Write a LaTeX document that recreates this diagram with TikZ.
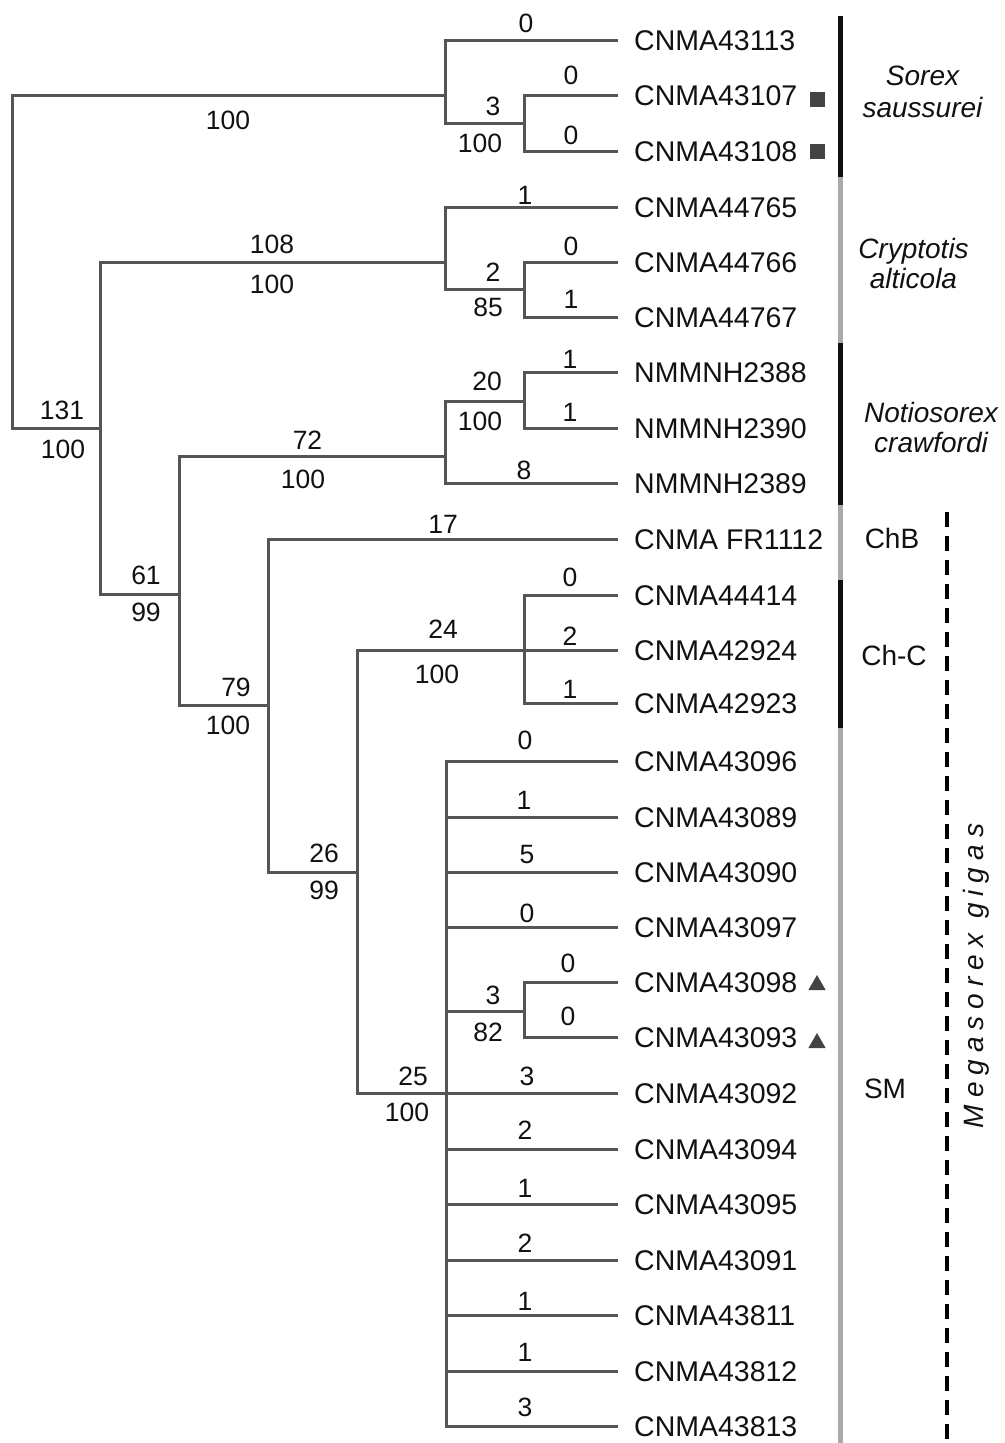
\documentclass[tikz,border=0pt]{standalone}
\usepackage{fontspec}
\setmainfont{Liberation Sans}
\newfontfamily\megafont[LetterSpace=25]{Liberation Sans}
\usetikzlibrary{shapes.geometric}
\definecolor{branchc}{HTML}{555555}
\definecolor{txtc}{HTML}{111111}
\definecolor{barlight}{HTML}{AAAAAA}
\definecolor{bardark}{HTML}{111111}
\definecolor{markc}{HTML}{444444}
\begin{document}
\begin{tikzpicture}[x=1pt,y=-1pt,
  br/.style={draw=branchc, line width=3pt},
  taxon/.style={anchor=west, inner xsep=16pt, inner ysep=0pt, text height=20pt, text depth=0pt, font=\fontsize{28.5}{32}\selectfont, text=txtc},
  num/.style={inner sep=0pt, font=\fontsize{26.5}{30}\selectfont, text=txtc},
  clade/.style={anchor=base, inner sep=0pt, font=\fontsize{28}{32}\selectfont\itshape, text=txtc},
  grp/.style={anchor=base, inner sep=0pt, font=\fontsize{28}{32}\selectfont, text=txtc},
  sqmark/.style={fill=markc, minimum size=15pt, inner sep=0pt},
  trimark/.style={fill=markc, regular polygon, regular polygon sides=3, minimum size=20pt, inner sep=0pt},
  bardk/.style={draw=bardark, line width=5pt},
  barlt/.style={draw=barlight, line width=5pt},
  dashln/.style={draw=black, line width=3.5pt, dash pattern=on 15pt off 9pt},
]
\useasboundingbox (0,0) rectangle (1004,1443);

% ---------- tips ----------
\node[taxon] (t43113) at (618,40) {CNMA43113};
\node[taxon] (t43107) at (618,95) {CNMA43107};
\node[taxon] (t43108) at (618,151) {CNMA43108};
\node[taxon] (t44765) at (618,207) {CNMA44765};
\node[taxon] (t44766) at (618,262) {CNMA44766};
\node[taxon] (t44767) at (618,317) {CNMA44767};
\node[taxon] (t2388) at (618,372) {NMMNH2388};
\node[taxon] (t2390) at (618,428) {NMMNH2390};
\node[taxon] (t2389) at (618,483) {NMMNH2389};
\node[taxon] (tFR) at (618,539) {CNMA FR1112};
\node[taxon] (t44414) at (618,595) {CNMA44414};
\node[taxon] (t42924) at (618,650) {CNMA42924};
\node[taxon] (t42923) at (618,703) {CNMA42923};
\node[taxon] (t43096) at (618,761) {CNMA43096};
\node[taxon] (t43089) at (618,817) {CNMA43089};
\node[taxon] (t43090) at (618,872) {CNMA43090};
\node[taxon] (t43097) at (618,927) {CNMA43097};
\node[taxon] (t43098) at (618,982) {CNMA43098};
\node[taxon] (t43093) at (618,1037) {CNMA43093};
\node[taxon] (t43092) at (618,1093) {CNMA43092};
\node[taxon] (t43094) at (618,1149) {CNMA43094};
\node[taxon] (t43095) at (618,1204) {CNMA43095};
\node[taxon] (t43091) at (618,1260) {CNMA43091};
\node[taxon] (t43811) at (618,1315) {CNMA43811};
\node[taxon] (t43812) at (618,1371) {CNMA43812};
\node[taxon] (t43813) at (618,1426) {CNMA43813};

% ---------- internal nodes ----------
\coordinate (R) at (12,261);
\coordinate (S) at (445,95);
\coordinate (S2) at (524,123);
\coordinate (A) at (100,428);
\coordinate (C) at (445,262);
\coordinate (C2) at (524,289);
\coordinate (B) at (179,594);
\coordinate (N) at (445,456);
\coordinate (N2) at (524,401);
\coordinate (D) at (268,705);
\coordinate (E) at (357,872);
\coordinate (F) at (524,650);
\coordinate (G) at (446,1093);
\coordinate (G2) at (524,1011);

% ---------- branches ----------
\draw[br] (R) |- (S);
\draw[br] (R) |- (A);
\draw[br] (S) |- (t43113.west);
\draw[br] (S) |- (S2);
\draw[br] (S2) |- (t43107.west);
\draw[br] (S2) |- (t43108.west);
\draw[br] (A) |- (C);
\draw[br] (A) |- (B);
\draw[br] (C) |- (t44765.west);
\draw[br] (C) |- (C2);
\draw[br] (C2) |- (t44766.west);
\draw[br] (C2) |- (t44767.west);
\draw[br] (B) |- (N);
\draw[br] (B) |- (D);
\draw[br] (N) |- (N2);
\draw[br] (N) |- (t2389.west);
\draw[br] (N2) |- (t2388.west);
\draw[br] (N2) |- (t2390.west);
\draw[br] (D) |- (tFR.west);
\draw[br] (D) |- (E);
\draw[br] (E) |- (F);
\draw[br] (E) |- (G);
\draw[br] (F) |- (t44414.west);
\draw[br] (F) |- (t42924.west);
\draw[br] (F) |- (t42923.west);
\foreach \t in {t43096,t43089,t43090,t43097,t43092,t43094,t43095,t43091,t43811,t43812,t43813}
  \draw[br] (G) |- (\t.west);
\draw[br] (G) |- (G2);
\draw[br] (G2) |- (t43098.west);
\draw[br] (G2) |- (t43093.west);

% ---------- branch labels ----------
\node[num] (l1) at (228,120) {100};
\node[num] (l2) at (526,23.5) {0};
\node[num] (l3) at (571,75.5) {0};
\node[num] (l4) at (493,106) {3};
\node[num] (l5) at (480,143) {100};
\node[num] (l6) at (571,135) {0};
\node[num] (l7) at (272,244) {108};
\node[num] (l8) at (272,284) {100};
\node[num] (l9) at (525,195) {1};
\node[num] (l10) at (571,246) {0};
\node[num] (l11) at (493,272) {2};
\node[num] (l12) at (488,307) {85};
\node[num] (l13) at (571,299) {1};
\node[num] (l14) at (62,410) {131};
\node[num] (l15) at (63,449) {100};
\node[num] (l16) at (307.5,440) {72};
\node[num] (l17) at (303,479) {100};
\node[num] (l18) at (570,359) {1};
\node[num] (l19) at (487,381) {20};
\node[num] (l20) at (480,421) {100};
\node[num] (l21) at (570,412) {1};
\node[num] (l22) at (524,470) {8};
\node[num] (l23) at (443,524) {17};
\node[num] (l24) at (146,575) {61};
\node[num] (l25) at (146,612) {99};
\node[num] (l26) at (236,687) {79};
\node[num] (l27) at (228,725) {100};
\node[num] (l28) at (324,853) {26};
\node[num] (l29) at (324,890) {99};
\node[num] (l30) at (443,629) {24};
\node[num] (l31) at (437,674) {100};
\node[num] (l32) at (570,577) {0};
\node[num] (l33) at (570,636) {2};
\node[num] (l34) at (570,689) {1};
\node[num] (l35) at (525,740) {0};
\node[num] (l36) at (524,800) {1};
\node[num] (l37) at (527,855) {5};
\node[num] (l38) at (527,913) {0};
\node[num] (l39) at (568,963) {0};
\node[num] (l40) at (493,995) {3};
\node[num] (l41) at (568,1016) {0};
\node[num] (l42) at (488,1032) {82};
\node[num] (l43) at (413,1076) {25};
\node[num] (l44) at (527,1076) {3};
\node[num] (l45) at (407,1112) {100};
\node[num] (l46) at (525,1130) {2};
\node[num] (l47) at (525,1188) {1};
\node[num] (l48) at (525,1243) {2};
\node[num] (l49) at (525,1301) {1};
\node[num] (l50) at (525,1352) {1};
\node[num] (l51) at (525,1407) {3};

% ---------- markers ----------
\node[sqmark] (m1) at (817,99) {};
\node[sqmark] (m2) at (817,151) {};
\node[trimark] (m3) at (817,985) {};
\node[trimark] (m4) at (817,1043) {};

% ---------- clade bars ----------
\draw[bardk] (840,16) -- (840,177);
\draw[barlt] (840,177) -- (840,343);
\draw[bardk] (840,343) -- (840,505);
\draw[barlt] (840,505) -- (840,580);
\draw[bardk] (840,580) -- (840,728);
\draw[barlt] (840,728) -- (840,1443);
\draw[dashln] (947,512) -- (947,1443);

% ---------- clade names ----------
\node[clade] (c1a) at (922.5,85) {Sorex};
\node[clade] (c1b) at (922.5,117) {saussurei};
\node[clade] (c2a) at (913.5,258) {Cryptotis};
\node[clade] (c2b) at (913.5,288) {alticola};
\node[clade] (c3a) at (931,422) {Notiosorex};
\node[clade] (c3b) at (931,452) {crawfordi};
\node[grp] (g1) at (892,548) {ChB};
\node[grp] (g2) at (894,665) {Ch-C};
\node[grp] (g3) at (885,1098) {SM};
\node[rotate=90, anchor=base, inner sep=0pt, text=txtc, font=\fontsize{28}{32}\megafont\itshape] (mega) at (983,976) {Megasorex gigas};
\end{tikzpicture}
\end{document}
